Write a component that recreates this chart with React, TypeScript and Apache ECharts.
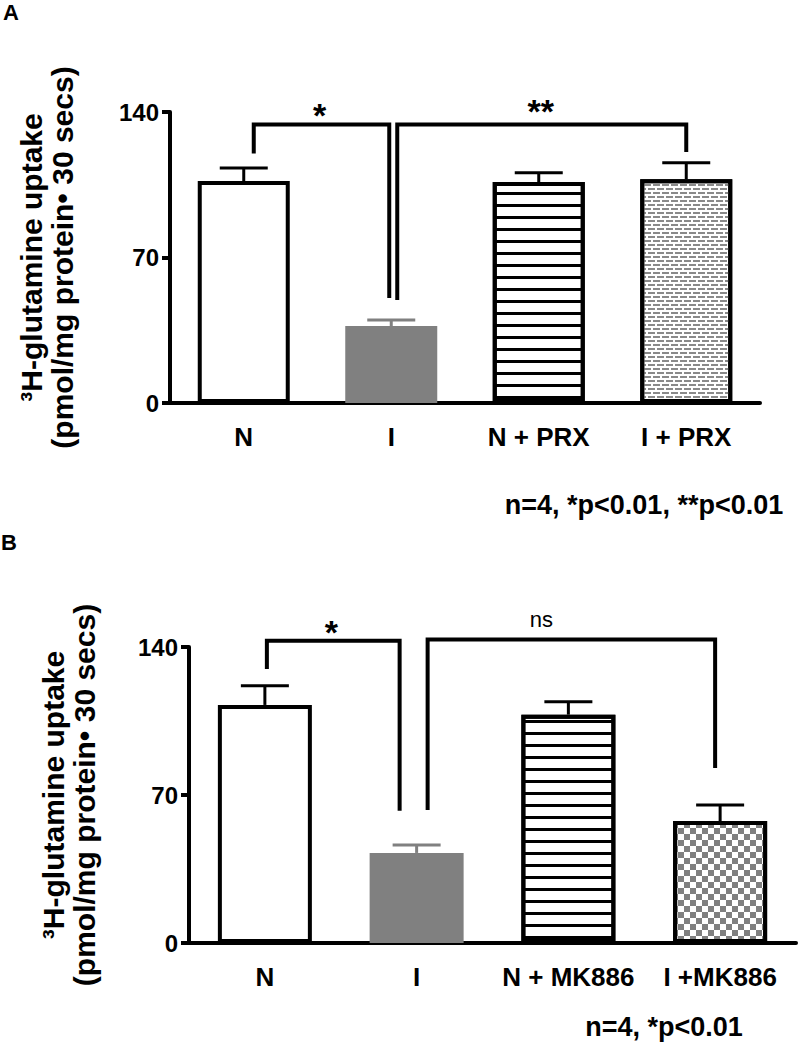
import React, { useEffect, useRef } from "react";
import * as echarts from "echarts";

const FONT = "'Liberation Sans', Arial, Helvetica, sans-serif";

// Panel A data
const categoriesA = ["N", "I", "N + PRX", "I + PRX"];
const valuesA = [106.8, 37.0, 106.3, 107.7];
const errorsA = [6.2, 2.9, 4.5, 7.9];
const patternsA = ["plain", "gray", "stripes", "bricks"];

// Panel B data
const categoriesB = ["N", "I", "N + MK886", "I +MK886"];
const valuesB = [112.6, 42.6, 108.0, 57.7];
const errorsB = [9.1, 3.8, 6.1, 7.6];
const patternsB = ["plain", "gray", "stripes", "checker"];

// y axis
const yMin = 0;
const yMax = 140;
const yStep = 70;
const yTitle = "³H-glutamine uptake\n(pmol/mg protein\u2022 30 secs)";

// significance brackets: [fromIndex, toIndex, topValue, leftDropValue, rightDropValue]
const bracketsA = [
  [0, 1, 134, 120, 50.5],
  [1, 3, 134, 49.5, 120.7],
];
const bracketLabelsA = ["*", "**"];
const bracketsB = [
  [0, 1, 142.9, 129.6, 62.6],
  [1, 3, 143.6, 62.9, 82.8],
];
const bracketLabelsB = ["*", "ns"];

const panelLetters = ["A", "B"];
const footnotes = ["n=4, *p<0.01, **p<0.01", "n=4, *p<0.01"];

function barStyle(kind: string) {
  switch (kind) {
    case "gray":
      return { color: "#808080", borderWidth: 0 };
    case "stripes":
      return {
        color: "#ffffff",
        borderColor: "#000",
        borderWidth: 4,
        decal: {
          symbol: "rect",
          symbolSize: 1,
          color: "#000",
          dashArrayX: [1, 0],
          dashArrayY: [3, 9],
          rotation: 0,
        },
      };
    case "bricks":
      return {
        color: "#ffffff",
        borderColor: "#000",
        borderWidth: 4,
        decal: {
          symbol: "rect",
          symbolSize: 1,
          color: "#8a8a8a",
          dashArrayX: [
            [7, 2],
            [3, 2, 4, 0],
          ],
          dashArrayY: [2, 2],
          rotation: 0,
        },
      };
    case "checker":
      return {
        color: "#ffffff",
        borderColor: "#000",
        borderWidth: 4,
        decal: {
          symbol: "rect",
          symbolSize: 1,
          color: "#808080",
          dashArrayX: [
            [6, 6],
            [0, 6, 6, 0],
          ],
          dashArrayY: [6, 0],
          rotation: 0,
        },
      };
    default:
      return { color: "#ffffff", borderColor: "#000", borderWidth: 4 };
  }
}

function errorSeries(axisIdx: number, values: number[], errors: number[], patterns: string[]) {
  return {
    type: "custom",
    xAxisIndex: axisIdx,
    yAxisIndex: axisIdx,
    z: 5,
    encode: { x: 0, y: 1 },
    data: values.map((v, i) => [i, v, errors[i]]),
    renderItem: (params: any, api: any) => {
      const i = api.value(0);
      const v = api.value(1);
      const e = api.value(2);
      const p0 = api.coord([i, v]);
      const p1 = api.coord([i, v + e]);
      const col = patterns[params.dataIndex] === "gray" ? "#808080" : "#000";
      const half = 24;
      return {
        type: "group",
        children: [
          {
            type: "line",
            shape: { x1: p0[0], y1: p0[1], x2: p1[0], y2: p1[1] },
            style: { stroke: col, lineWidth: 3 },
          },
          {
            type: "line",
            shape: { x1: p1[0] - half, y1: p1[1], x2: p1[0] + half, y2: p1[1] },
            style: { stroke: col, lineWidth: 3 },
          },
        ],
      };
    },
  };
}

function bracketSeries(
  axisIdx: number,
  brackets: number[][],
  labels: string[],
  offsets: number[][],
  labelStyles: any[]
) {
  return {
    type: "custom",
    xAxisIndex: axisIdx,
    yAxisIndex: axisIdx,
    z: 6,
    clip: false,
    encode: { x: 0, y: 2 },
    data: brackets,
    renderItem: (params: any, api: any) => {
      const idx = params.dataIndex;
      const off = offsets[idx];
      const a = api.value(0);
      const b = api.value(1);
      const top = api.value(2);
      const dl = api.value(3);
      const dr = api.value(4);
      const pTopL = api.coord([a, top]);
      const pTopR = api.coord([b, top]);
      const pDl = api.coord([a, dl]);
      const pDr = api.coord([b, dr]);
      const xl = pTopL[0] + off[0];
      const xr = pTopR[0] + off[1];
      const ls = labelStyles[idx];
      return {
        type: "group",
        children: [
          {
            type: "polyline",
            shape: {
              points: [
                [xl, pDl[1]],
                [xl, pTopL[1]],
                [xr, pTopR[1]],
                [xr, pDr[1]],
              ],
            },
            style: { stroke: "#000", lineWidth: 4, fill: null, lineJoin: "miter" },
          },
          {
            type: "text",
            style: {
              text: labels[idx],
              x: (xl + xr) / 2 + ls.dx,
              y: pTopL[1] - ls.dy,
              textAlign: "center",
              textVerticalAlign: "middle",
              font: ls.font,
              fill: "#000",
            },
          },
        ],
      };
    },
  };
}

function yAxisOpt(idx: number, gap: number) {
  return {
    type: "value",
    gridIndex: idx,
    min: yMin,
    max: yMax,
    interval: yStep,
    name: yTitle,
    nameLocation: "middle",
    nameRotate: 90,
    nameGap: gap,
    nameTextStyle: {
      fontFamily: FONT,
      fontSize: 30,
      fontWeight: "bold",
      color: "#000",
      lineHeight: 31,
      align: "center",
    },
    axisLine: { show: true, lineStyle: { color: "#000", width: 4 } },
    axisTick: { show: true, length: 8, lineStyle: { color: "#000", width: 4 } },
    axisLabel: {
      fontFamily: FONT,
      fontSize: 24,
      fontWeight: "bold",
      color: "#000",
      margin: 11,
    },
    splitLine: { show: false },
  };
}

function xAxisOpt(idx: number, cats: string[]) {
  return {
    type: "category",
    gridIndex: idx,
    data: cats,
    axisLine: { show: true, lineStyle: { color: "#000", width: 4 } },
    axisTick: { show: false },
    axisLabel: {
      interval: 0,
      fontFamily: FONT,
      fontSize: 26,
      fontWeight: "bold",
      color: "#000",
      margin: 21,
    },
  };
}

export default function App() {
  const ref = useRef<HTMLDivElement>(null);

  useEffect(() => {
    if (!ref.current) return;
    const chart = echarts.init(ref.current, null, { renderer: "svg" });
    const starFont = `bold 34px ${FONT}`;
    const nsFont = `normal 22px ${FONT}`;
    const option: any = {
      animation: false,
      backgroundColor: "#ffffff",
      grid: [
        { left: 170, top: 112, width: 590, height: 291 },
        { left: 189, top: 647, width: 607, height: 296 },
      ],
      xAxis: [xAxisOpt(0, categoriesA), xAxisOpt(1, categoriesB)],
      yAxis: [yAxisOpt(0, 92), yAxisOpt(1, 89)],
      series: [
        {
          type: "bar",
          xAxisIndex: 0,
          yAxisIndex: 0,
          barWidth: 92,
          z: 2,
          data: valuesA.map((v, i) => ({ value: v, itemStyle: barStyle(patternsA[i]) })),
        },
        {
          type: "bar",
          xAxisIndex: 1,
          yAxisIndex: 1,
          barWidth: 94,
          z: 2,
          data: valuesB.map((v, i) => ({ value: v, itemStyle: barStyle(patternsB[i]) })),
        },
        errorSeries(0, valuesA, errorsA, patternsA),
        errorSeries(1, valuesB, errorsB, patternsB),
        bracketSeries(
          0,
          bracketsA,
          bracketLabelsA,
          [
            [10, -2],
            [6, 0],
          ],
          [
            { dx: -2, dy: 9, font: starFont },
            { dx: -1, dy: 13, font: starFont },
          ]
        ),
        bracketSeries(
          1,
          bracketsB,
          bracketLabelsB,
          [
            [2, -17],
            [11, -5],
          ],
          [
            { dx: -2, dy: 9, font: starFont },
            { dx: -30, dy: 20, font: nsFont },
          ]
        ),
      ],
      graphic: [
        {
          type: "text",
          x: 3,
          y: 1,
          style: {
            text: panelLetters[0],
            textAlign: "left",
            textVerticalAlign: "top",
            font: `bold 22px ${FONT}`,
            fill: "#000",
          },
        },
        {
          type: "text",
          x: 1,
          y: 531,
          style: {
            text: panelLetters[1],
            textAlign: "left",
            textVerticalAlign: "top",
            font: `bold 22px ${FONT}`,
            fill: "#000",
          },
        },
        {
          type: "text",
          x: 644,
          y: 505,
          style: {
            text: footnotes[0],
            textAlign: "center",
            textVerticalAlign: "middle",
            font: `bold 27px ${FONT}`,
            fill: "#000",
          },
        },
        {
          type: "text",
          x: 664,
          y: 1027,
          style: {
            text: footnotes[1],
            textAlign: "center",
            textVerticalAlign: "middle",
            font: `bold 27px ${FONT}`,
            fill: "#000",
          },
        },
      ],
    };
    chart.setOption(option);
    return () => {
      chart.dispose();
    };
  }, []);

  return (
    <div
      ref={ref}
      style={{ position: "absolute", left: 0, top: 0, width: 798, height: 1042, background: "#fff" }}
    />
  );
}
